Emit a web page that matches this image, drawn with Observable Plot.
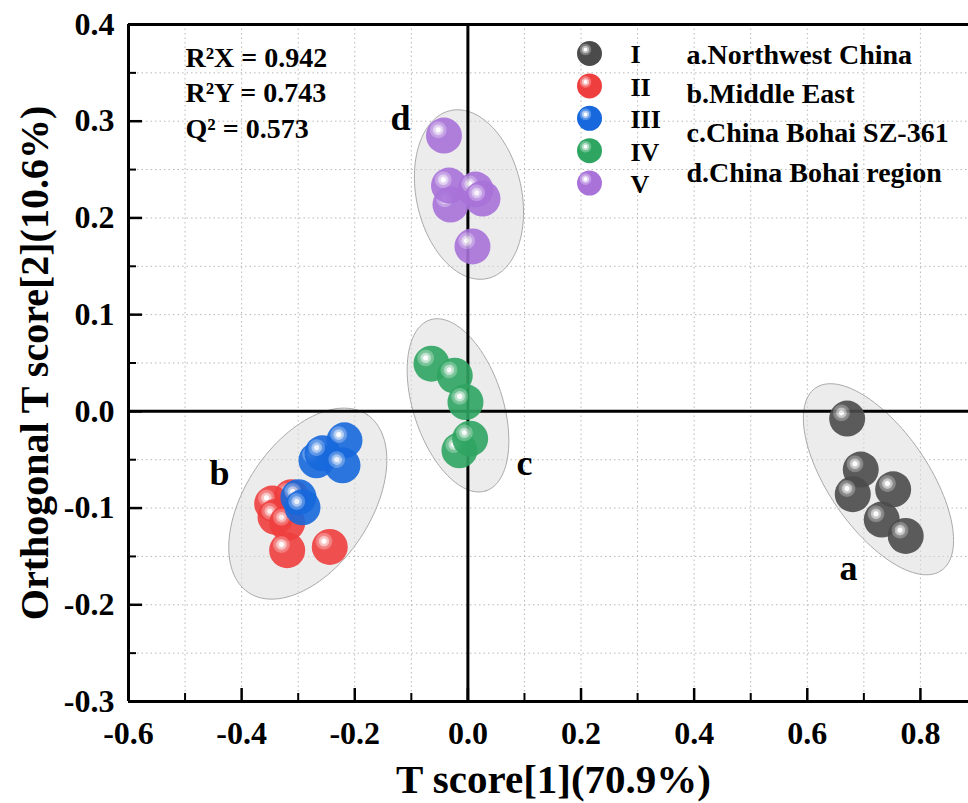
<!DOCTYPE html>
<html>
<head>
<meta charset="utf-8">
<script src="https://cdn.jsdelivr.net/npm/d3@7"></script>
<script src="https://cdn.jsdelivr.net/npm/@observablehq/plot@0.6"></script>
<style>
  html, body { margin: 0; padding: 0; background: #fff; }
  #chart { width: 968px; height: 803px; overflow: hidden; }
</style>
</head>
<body>
<svg width="0" height="0" style="position:absolute"><defs id="grads"></defs></svg>
<div id="chart"></div>
<script>
// ---------------- data ----------------
const groupNames = ["I", "II", "III", "IV", "V"];
const regionLabels = ["a.Northwest China", "b.Middle East", "c.China Bohai SZ-361", "d.China Bohai region"];
const statLabels = ["R\u00B2X = 0.942", "R\u00B2Y = 0.743", "Q\u00B2 = 0.573"];
const xTickLabels = [-0.6, -0.4, -0.2, 0.0, 0.2, 0.4, 0.6, 0.8];
const yTickLabels = [-0.3, -0.2, -0.1, 0.0, 0.1, 0.2, 0.3, 0.4];
const xMinorTicks = [-0.5, -0.3, -0.1, 0.1, 0.3, 0.5, 0.7];
const yMinorTicks = [-0.25, -0.15, -0.05, 0.05, 0.15, 0.25, 0.35];
const xGrid = [-0.5, -0.4, -0.3, -0.2, -0.1, 0.1, 0.2, 0.3, 0.4, 0.5, 0.6, 0.7, 0.8];
const yGrid = [-0.25, -0.2, -0.15, -0.1, -0.05, 0.05, 0.1, 0.15, 0.2, 0.25, 0.3, 0.35];

// T score[1] and orthogonal T score[2] per sample group
const groupI_t1   = [0.6705, 0.6945, 0.6804, 0.7518, 0.7316, 0.7740];
const groupI_t2   = [-0.0075, -0.0602, -0.0857, -0.0806, -0.1119, -0.1288];
const groupII_t1  = [-0.3119, -0.3460, -0.3401, -0.3195, -0.3195, -0.2442];
const groupII_t2  = [-0.0888, -0.0954, -0.1092, -0.1154, -0.1436, -0.1402];
const groupIII_t1 = [-0.2677, -0.2571, -0.2182, -0.2217, -0.2995, -0.2924];
const groupIII_t2 = [-0.0506, -0.0434, -0.0300, -0.0558, -0.0888, -0.0992];
const groupIV_t1  = [-0.0644, -0.0232, -0.0043, -0.0149, 0.0040];
const groupIV_t2  = [0.0493, 0.0369, 0.0096, -0.0403, -0.0282];
const groupV_t1   = [-0.0423, -0.0308, -0.0334, 0.0134, 0.0258, 0.0081];
const groupV_t2   = [0.2851, 0.2138, 0.2335, 0.2293, 0.2200, 0.1705];

// confidence ellipses: centre (t1, t2), semi-axes (in T score[1] units), tilt in degrees
const ellipseNames = ["a", "b", "c", "d"];
const ellipseCx    = [0.7258, -0.2830, -0.0175, 0.0019];
const ellipseCy    = [-0.0702, -0.0954, 0.0062, 0.2242];
const ellipseMajor = [0.196, 0.189, 0.159, 0.152];
const ellipseMinor = [0.088, 0.111, 0.079, 0.093];
const ellipseTilt  = [-55.4, 56.3, -71.9, -77.7];

// cluster letter positions
const clusterLetters = ["d", "b", "c", "a"];
const clusterX = [-0.1192, -0.4391, 0.1000, 0.6728];
const clusterY = [0.3027, -0.0640, -0.0537, -0.1622];

// ---------------- build ----------------
const colors = {I: "#4b4b4b", II: "#ef3e3e", III: "#1668dc", IV: "#2fa562", V: "#a872d9"};
const W = 968, H = 803, ML = 128, MR = 0, MT = 24, MB = 102;
const xDomain = [-0.6, 0.885], yDomain = [-0.3, 0.4];
const frameW = W - ML - MR, frameH = H - MT - MB;
const kx = frameW / (xDomain[1] - xDomain[0]);
const ky = frameH / (yDomain[1] - yDomain[0]);

// sphere gradients
function mix(c, t) {
  const a = d3.rgb(c);
  return d3.rgb(a.r + (255 - a.r) * t, a.g + (255 - a.g) * t, a.b + (255 - a.b) * t).formatHex();
}
const defs = document.getElementById("grads");
const ns = "http://www.w3.org/2000/svg";
for (const g of groupNames) {
  const base = colors[g];
  const rg = document.createElementNS(ns, "radialGradient");
  rg.setAttribute("id", "sph-" + g);
  rg.setAttribute("cx", "0.34"); rg.setAttribute("cy", "0.34");
  rg.setAttribute("fx", "0.34"); rg.setAttribute("fy", "0.34");
  rg.setAttribute("r", "0.5");
  const stops = [[0, "#ffffff"], [0.12, "#ffffff"], [0.16, mix(base, 0.72)], [0.27, mix(base, 0.62)],
                 [0.31, mix(base, 0.33)], [0.44, mix(base, 0.25)], [0.49, base], [1, base]];
  for (const [o, c] of stops) {
    const s = document.createElementNS(ns, "stop");
    s.setAttribute("offset", o); s.setAttribute("stop-color", c);
    rg.appendChild(s);
  }
  defs.appendChild(rg);
}

const groupData = {
  I: groupI_t1.map((t, i) => ({t1: t, t2: groupI_t2[i]})),
  II: groupII_t1.map((t, i) => ({t1: t, t2: groupII_t2[i]})),
  III: groupIII_t1.map((t, i) => ({t1: t, t2: groupIII_t2[i]})),
  IV: groupIV_t1.map((t, i) => ({t1: t, t2: groupIV_t2[i]})),
  V: groupV_t1.map((t, i) => ({t1: t, t2: groupV_t2[i]}))
};

const ellipsePts = [];
ellipseNames.forEach((n, k) => {
  const th = ellipseTilt[k] * Math.PI / 180;
  for (let i = 0; i <= 120; i++) {
    const t = i / 120 * 2 * Math.PI;
    const ux = ellipseMajor[k] * Math.cos(t), uy = ellipseMinor[k] * Math.sin(t);
    const sx = ux * Math.cos(th) - uy * Math.sin(th);
    const sy = ux * Math.sin(th) + uy * Math.cos(th);
    ellipsePts.push({e: n, x: ellipseCx[k] + sx, y: ellipseCy[k] + sy * kx / ky});
  }
});

const fmt = d => (Math.abs(d) < 1e-9 ? "0.0" : d.toFixed(1));
const font = "'Liberation Serif', 'Times New Roman', serif";
const txt = {fontFamily: font, fontWeight: "bold", fill: "#000", lineAnchor: "middle"};

const marks = [
  Plot.ruleX(xGrid, {x: d => d, stroke: "#b8b8b8", strokeWidth: 1, strokeDasharray: "1.5,3"}),
  Plot.ruleY(yGrid, {y: d => d, stroke: "#b8b8b8", strokeWidth: 1, strokeDasharray: "1.5,3"}),
  Plot.line(ellipsePts, {x: "x", y: "y", z: "e", curve: "linear-closed", fill: "#dcdcdc", fillOpacity: 0.55, stroke: "#aaaaaa", strokeWidth: 1}),
  Plot.ruleX([0], {x: d => d, stroke: "#000", strokeWidth: 3}),
  Plot.ruleY([0], {y: d => d, stroke: "#000", strokeWidth: 3}),
  Plot.ruleX([xDomain[0]], {x: d => d, stroke: "#000", strokeWidth: 3}),
  Plot.ruleY([yDomain[0]], {y: d => d, stroke: "#000", strokeWidth: 3}),
  Plot.ruleY([yDomain[1]], {y: d => d, stroke: "#000", strokeWidth: 3}),
  Plot.tickY(yTickLabels, {y: d => d, insetRight: frameW - 14, stroke: "#000", strokeWidth: 2.5}),
  Plot.tickY(yMinorTicks, {y: d => d, insetRight: frameW - 8, stroke: "#000", strokeWidth: 2}),
  Plot.tickX(xTickLabels, {x: d => d, insetTop: frameH - 13, stroke: "#000", strokeWidth: 2.5}),
  Plot.tickX(xMinorTicks, {x: d => d, insetTop: frameH - 8, stroke: "#000", strokeWidth: 2}),
  Plot.text(xTickLabels, {x: d => d, frameAnchor: "bottom", text: fmt, dy: 32, textAnchor: "middle", fontSize: 32, ...txt}),
  Plot.text(yTickLabels, {y: d => d, frameAnchor: "left", text: fmt, dx: -14, textAnchor: "end", fontSize: 32, ...txt}),
  Plot.text(["T score[1](70.9%)"], {frameAnchor: "bottom", dx: 5, dy: 78, textAnchor: "middle", fontSize: 41, ...txt}),
  Plot.text(["Orthogonal T score[2](10.6%)"], {frameAnchor: "left", rotate: -90, dx: -93, textAnchor: "middle", fontSize: 40, ...txt}),
];

for (const g of groupNames) {
  marks.push(Plot.dot(groupData[g], {x: "t1", y: "t2", r: 18, fill: `url(#sph-${g})`, fillOpacity: 0.9, stroke: "none"}));
}

marks.push(Plot.text(clusterLetters, {x: (d, i) => clusterX[i], y: (d, i) => clusterY[i], text: d => d, textAnchor: "middle", fontSize: 36, ...txt}));

statLabels.forEach((s, i) => {
  marks.push(Plot.text([s], {frameAnchor: "top-left", dx: 57, dy: 33.5 + i * 35.5, textAnchor: "start", fontSize: 28, ...txt}));
});

groupNames.forEach((g, i) => {
  marks.push(Plot.dot([g], {frameAnchor: "top-left", dx: 461, dy: 29 + i * 32.4, r: 12.5, fill: `url(#sph-${g})`, stroke: "none"}));
  marks.push(Plot.text([g], {frameAnchor: "top-left", dx: 502, dy: 30.5 + i * 32.4, textAnchor: "start", fontSize: 26, ...txt}));
});
regionLabels.forEach((s, i) => {
  marks.push(Plot.text([s], {frameAnchor: "top-left", dx: 558, dy: 30.5 + i * 39.2, textAnchor: "start", fontSize: 28, ...txt}));
});

const chart = Plot.plot({
  width: W, height: H,
  marginLeft: ML, marginRight: MR, marginTop: MT, marginBottom: MB,
  x: {domain: xDomain, axis: null},
  y: {domain: yDomain, axis: null},
  style: {background: "#fff", fontFamily: font, overflow: "visible"},
  marks
});
document.getElementById("chart").appendChild(chart);
</script>
</body>
</html>
